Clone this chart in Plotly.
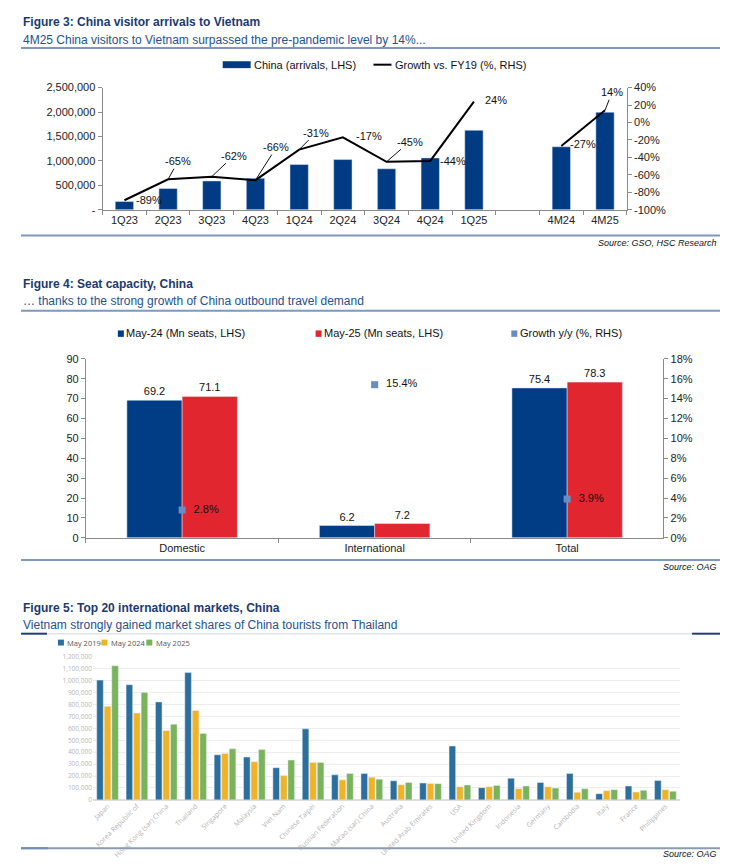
import plotly.graph_objects as go

W, H = 740, 868


def px(x):
    return x / W


def py(y):
    return 1 - y / H


# ---------------- Data ----------------
# Figure 3
f3_categories = ["1Q23", "2Q23", "3Q23", "4Q23", "1Q24", "2Q24", "3Q24", "4Q24", "1Q25", " ", "4M24", "4M25"]
f3_arrivals = [170000, 437000, 591000, 645000, 927000, 1028000, 840000, 1062000, 1627000, None, 1290000, 1996000]
f3_growth = [-89, -65, -62, -66, -31, -17, -45, -44, 24, None, -27, 14]
f3_y_ticks = [0, 500000, 1000000, 1500000, 2000000, 2500000]
f3_y_ticklabels = ["-", "500,000", "1,000,000", "1,500,000", "2,000,000", "2,500,000"]
f3_y2_ticks = [40, 20, 0, -20, -40, -60, -80, -100]
f3_y2_ticklabels = ["40%", "20%", "0%", "-20%", "-40%", "-60%", "-80%", "-100%"]

# Figure 4
f4_categories = ["Domestic", "International", "Total"]
f4_may24 = [69.2, 6.2, 75.4]
f4_may25 = [71.1, 7.2, 78.3]
f4_growth = [2.8, 15.4, 3.9]

# Figure 5
f5_markets = ["Japan", "Korea Republic of", "Hong Kong (sar) China", "Thailand", "Singapore",
              "Malaysia", "Viet Nam", "Chinese Taipei", "Russian Federation", "Macao (sar) China",
              "Australia", "United Arab Emirates", "USA", "United Kingdom", "Indonesia",
              "Germany", "Cambodia", "Italy", "France", "Philippines"]
f5_may2019 = [1005000, 966000, 822000, 1068000, 378000, 359000, 270000, 596000, 210000, 221000,
              160000, 141000, 452000, 102000, 182000, 146000, 221000, 52000, 116000, 163000]
f5_may2024 = [786000, 728000, 582000, 750000, 389000, 320000, 204000, 314000, 168000, 190000,
              127000, 138000, 110000, 110000, 94000, 110000, 63000, 77000, 66000, 86000]
f5_may2025 = [1125000, 902000, 634000, 557000, 428000, 422000, 334000, 314000, 221000, 174000,
              146000, 136000, 124000, 121000, 116000, 99000, 94000, 86000, 80000, 72000]

# ---------------- Styles ----------------
FONT = "Liberation Sans, Arial, sans-serif"
TITLE_C = "#1C3A6E"
SUB_C = "#24528F"
RULE_C = "#7D98BC"
AXIS_C = "#8A8A8A"
F3_BLUE = "#013B84"
F4_BLUE = "#013D85"
F4_RED = "#E2262F"
GROWTH_C = "#6A8CC0"
F5_C = ["#2C6E9C", "#F0B323", "#79B35A"]
F5_FONT = "Open Sans, DejaVu Sans, sans-serif"

fig = go.Figure()

# ---------------- Figure 3 traces ----------------
fig.add_trace(go.Bar(
    x=f3_categories, y=f3_arrivals, marker_color=F3_BLUE, width=0.42, offset=-0.21,
    xaxis="x", yaxis="y", showlegend=False, hoverinfo="skip"))
fig.add_trace(go.Scatter(
    x=f3_categories, y=f3_growth, mode="lines", line=dict(color="black", width=2),
    connectgaps=False, xaxis="x", yaxis="y2", showlegend=False, hoverinfo="skip"))

# ---------------- Figure 4 traces ----------------
fig.add_trace(go.Bar(
    x=f4_categories, y=f4_may24, marker_color=F4_BLUE, width=0.287, offset=-0.287,
    text=f4_may24, texttemplate="%{y:.1f}", textposition="outside",
    textfont=dict(family=FONT, size=11, color="#111"), cliponaxis=False,
    xaxis="x2", yaxis="y3", showlegend=False, hoverinfo="skip"))
fig.add_trace(go.Bar(
    x=f4_categories, y=f4_may25, marker_color=F4_RED, width=0.287, offset=0,
    text=f4_may25, texttemplate="%{y:.1f}", textposition="outside",
    textfont=dict(family=FONT, size=11, color="#111"), cliponaxis=False,
    xaxis="x2", yaxis="y3", showlegend=False, hoverinfo="skip"))
fig.add_trace(go.Scatter(
    x=f4_categories, y=f4_growth, mode="markers+text",
    marker=dict(symbol="square", size=7, color=GROWTH_C),
    text=[f"  {v:.1f}%" for v in f4_growth], textposition="middle right",
    textfont=dict(family=FONT, size=11, color="#111"), cliponaxis=False,
    xaxis="x2", yaxis="y4", showlegend=False, hoverinfo="skip"))

# ---------------- Figure 5 traces ----------------
f5_series = [f5_may2019, f5_may2024, f5_may2025]
f5_offsets = [-0.369, -0.113, 0.144]
for vals, col, off in zip(f5_series, F5_C, f5_offsets):
    fig.add_trace(go.Bar(
        x=f5_markets, y=vals, marker_color=col, width=0.225, offset=off,
        xaxis="x3", yaxis="y5", showlegend=False, hoverinfo="skip"))

# ---------------- Axes ----------------
tickfont = dict(family=FONT, size=11, color="#222")
fig.update_layout(
    width=W, height=H, autosize=False,
    margin=dict(l=0, r=0, t=0, b=0),
    paper_bgcolor="white", plot_bgcolor="rgba(0,0,0,0)",
    barmode="group", showlegend=False,
    font=dict(family=FONT, size=11, color="#222"),
    # Figure 3
    xaxis=dict(domain=[px(101.7), px(626.7)], anchor="y", type="category",
               categoryorder="array", categoryarray=f3_categories, range=[-0.5, 11.5],
               showline=True, linecolor=AXIS_C, linewidth=1, ticks="outside", ticklen=4,
               tickcolor=AXIS_C, tickson="boundaries", showgrid=False, tickfont=tickfont,
               fixedrange=True),
    yaxis=dict(domain=[py(206.7), py(82.7)], anchor="x", range=[0, 2500000],
               tickvals=f3_y_ticks, ticktext=f3_y_ticklabels, showline=True, linecolor=AXIS_C,
               ticks="outside", ticklen=4, tickcolor=AXIS_C, showgrid=False, zeroline=False,
               tickfont=tickfont),
    yaxis2=dict(overlaying="y", side="right", anchor="x", range=[-100, 40],
                tickvals=f3_y2_ticks, ticktext=f3_y2_ticklabels,
                showline=True, linecolor=AXIS_C, ticks="outside", ticklen=4,
                tickcolor=AXIS_C, showgrid=False, zeroline=False, tickfont=tickfont),
    # Figure 4
    xaxis2=dict(domain=[px(85), px(663.3)], anchor="y3", type="category",
                categoryorder="array", categoryarray=f4_categories, range=[-0.5, 2.5],
                showline=True, linecolor=AXIS_C, ticks="outside", ticklen=4, tickcolor=AXIS_C,
                tickson="boundaries", showgrid=False, tickfont=tickfont),
    yaxis3=dict(domain=[py(539.3), py(357.8)], anchor="x2", range=[0, 90], dtick=10,
                showline=True, linecolor=AXIS_C, ticks="outside", ticklen=4, tickcolor=AXIS_C,
                showgrid=False, zeroline=False, tickfont=tickfont),
    yaxis4=dict(overlaying="y3", side="right", anchor="x2", range=[0, 18], dtick=2,
                ticksuffix="%", showline=True, linecolor=AXIS_C, ticks="outside", ticklen=4,
                tickcolor=AXIS_C, showgrid=False, zeroline=False, tickfont=tickfont),
    # Figure 5
    xaxis3=dict(domain=[px(92), px(680)], anchor="y5", type="category",
                categoryorder="array", categoryarray=f5_markets, range=[-0.5, 19.5],
                tickangle=-45, showline=False, ticks="", showgrid=False,
                tickfont=dict(family=F5_FONT, size=7, color="#b3b3b3")),
    yaxis5=dict(domain=[py(805), py(660)], anchor="x3", range=[0, 1200000], dtick=100000,
                tickformat=",", showline=False, ticks="", showgrid=True, gridcolor="#ededed",
                gridwidth=1, zeroline=True, zerolinecolor="#dedede",
                tickfont=dict(family=F5_FONT, size=6.5, color="#b8b8b8")),
)

# ---------------- Annotations ----------------
ann = []
shapes = []


def text(x, y, s, size=12, color="#222", bold=False, italic=False, xanchor="left"):
    if bold:
        s = f"<b>{s}</b>"
    if italic:
        s = f"<i>{s}</i>"
    ann.append(dict(x=px(x), y=py(y), xref="paper", yref="paper", text=s, showarrow=False,
                    xanchor=xanchor, yanchor="middle",
                    font=dict(family=FONT, size=size, color=color)))


def hline(x0, x1, y, color=RULE_C, width=2):
    shapes.append(dict(type="line", xref="paper", yref="paper", x0=px(x0), x1=px(x1),
                       y0=py(y), y1=py(y), line=dict(color=color, width=width)))


def rect(x0, x1, y0, y1, color):
    shapes.append(dict(type="rect", xref="paper", yref="paper", x0=px(x0), x1=px(x1),
                       y0=py(y1), y1=py(y0), fillcolor=color, line=dict(width=0)))


# Figure 3 header
text(20, 16, "Figure 3: China visitor arrivals to Vietnam", 12, TITLE_C, bold=True)
text(20, 34, "4M25 China visitors to Vietnam surpassed the pre-pandemic level by 14%...", 12, SUB_C)
hline(20, 720, 42.5)
# Figure 3 legend
rect(222, 250, 56, 63, F3_BLUE)
text(251, 59.5, "China (arrivals, LHS)", 11, "#111")
hline(373, 391, 59.5, color="black", width=2)
text(393, 59.5, "Growth vs. FY19 (%, RHS)", 11, "#111")
hline(20, 720, 232.7)
text(719, 240.5, "Source: GSO, HSC Research", 9, "#111", italic=True, xanchor="right")

# Figure 3 line labels: (index, dx, dy, leader)
f3_label_pos = [(0, 25, 0, False), (1, 10, -18, True), (2, 22, -21, True), (3, 21, -33, True),
                (4, 17, -17, True), (5, 26, -1, False), (6, 23, -20, True), (7, 23, 0, False),
                (8, 22, -2, False), (10, 22, -2, False), (11, 7, -18, True)]
for i, dx, dy, leader in f3_label_pos:
    lab = f"{f3_growth[i]}%"
    if leader:
        ann.append(dict(x=f3_categories[i], y=f3_growth[i], xref="x", yref="y2", text=lab,
                        showarrow=True, arrowhead=0, arrowwidth=1, arrowcolor="#111",
                        ax=dx, ay=dy, standoff=0, font=dict(family=FONT, size=11, color="#111")))
    else:
        ann.append(dict(x=f3_categories[i], y=f3_growth[i], xref="x", yref="y2", text=lab,
                        showarrow=False, xshift=dx, yshift=-dy,
                        font=dict(family=FONT, size=11, color="#111")))

# Figure 4 header
text(20, 282, "Figure 4: Seat capacity, China", 12, TITLE_C, bold=True)
text(20, 299, "… thanks to the strong growth of China outbound travel demand", 12, SUB_C)
hline(20, 720, 309)
# Figure 4 legend
rect(117, 123, 329, 335.5, F4_BLUE)
text(123.5, 332, "May-24 (Mn seats, LHS)", 11, "#111")
rect(315, 321, 329, 335.5, F4_RED)
text(321.5, 332, "May-25 (Mn seats, LHS)", 11, "#111")
rect(511, 517, 329, 335.5, GROWTH_C)
text(517.5, 332, "Growth y/y (%, RHS)", 11, "#111")
hline(20, 720, 561.7)
text(719, 569, "Source: OAG", 9, "#111", italic=True, xanchor="right")

# Figure 5 header
text(20, 610, "Figure 5: Top 20 international markets, China", 12, TITLE_C, bold=True)
text(20, 628, "Vietnam strongly gained market shares of China tourists from Thailand", 12, SUB_C)
hline(45, 692, 636.5, color="#dfe3e8", width=1.5)
hline(20, 46, 636.5, color="#1F3E74", width=2)
hline(692, 720, 636.5, color="#1F3E74", width=2)
# Figure 5 legend
f5_names = ["May 2019", "May 2024", "May 2025"]
for name, col, x0 in zip(f5_names, F5_C, [57, 100.5, 145.5]):
    shapes.append(dict(type="rect", xref="paper", yref="paper", x0=px(x0), x1=px(x0 + 6),
                       y0=py(648.5), y1=py(642.5), fillcolor=col, line=dict(width=0)))
    ann.append(dict(x=px(x0 + 7.5), y=py(645.5), xref="paper", yref="paper", text=name,
                    showarrow=False, xanchor="left", yanchor="middle",
                    font=dict(family=F5_FONT, size=7.5, color="#555")))
hline(20, 720, 854, color="#8D9BAE", width=2)
hline(20, 47, 854, color="#6F8DB5", width=2)
text(719, 860, "Source: OAG", 9, "#111", italic=True, xanchor="right")

fig.update_layout(annotations=ann, shapes=shapes)

fig.write_html("out.html", config={"displayModeBar": False, "staticPlot": True},
               post_script="document.body.style.margin='0';document.body.style.overflow='hidden';")
